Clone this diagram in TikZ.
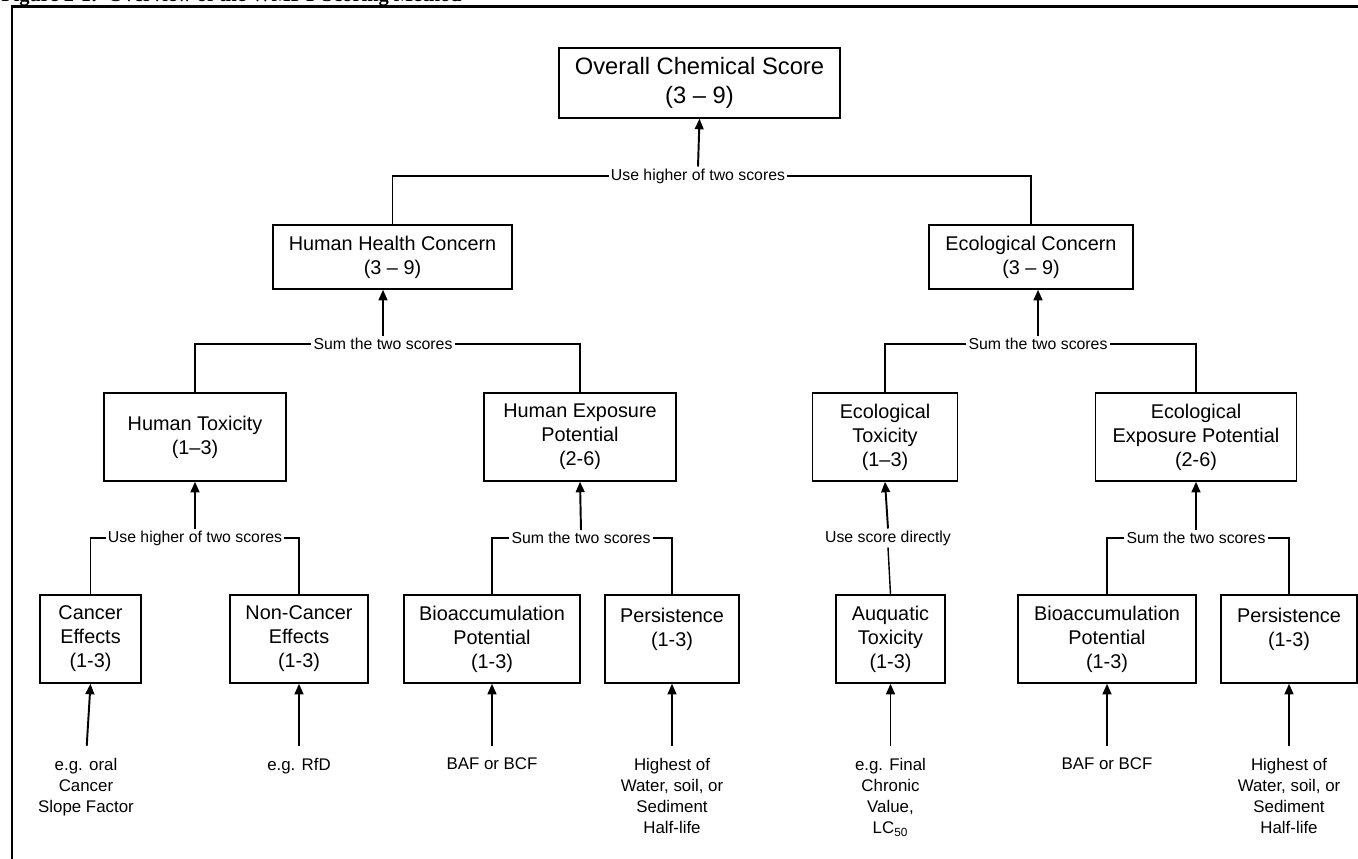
\documentclass[tikz,border=0pt]{standalone}
\usepackage{fontspec}
\setmainfont{Liberation Sans}
\newfontfamily\capfont{Liberation Serif}
\usetikzlibrary{arrows.meta}
\usetikzlibrary{positioning}

\begin{document}
\begin{tikzpicture}[
scorebox/.style={draw,line width=0.85pt,align=center,inner sep=0pt,minimum height=1.76cm,font=\fontsize{11.3}{13.7}\selectfont},
rulelabel/.style={inner sep=1pt,font=\fontsize{9}{10.8}\selectfont},
srctext/.style={align=center,inner sep=0pt,font=\fontsize{9.6}{12}\selectfont},
uparrow/.style={-{Triangle[length=6pt,width=5pt]},line width=1.1pt},
joinline/.style={line width=0.8pt}]
\useasboundingbox (0,0) rectangle (27.16,17.18);
\node[anchor=base west,inner sep=0pt,font=\capfont\bfseries\fontsize{11.6}{13}\selectfont] (caption) at (0.02,17.14) {Figure 2-1:\ \ Overview of the WMPT Scoring Method};
\draw[line width=1.7pt] (0.24,0) -- (0.24,17.04) -- (27.16,17.04);

\node[scorebox,minimum width=5.62cm,minimum height=1.4cm,font=\fontsize{13.5}{16.5}\selectfont] (overall) at (13.99,15.52) {Overall Chemical Score\\(3 – 9)};
\node[scorebox,minimum width=4.78cm,minimum height=1.28cm] (hhc) at (7.85,12.04) {Human Health Concern\\(3 – 9)};
\node[scorebox,minimum width=4.08cm,minimum height=1.28cm] (eco) at (20.62,12.04) {Ecological Concern\\(3 – 9)};
\node[rulelabel] (toplbl) at (13.96,13.66) {Use higher of two scores};
\node[rulelabel] (hhclbl) at (7.66,10.30) {Sum the two scores};
\node[rulelabel] (ecolbl) at (20.76,10.30) {Sum the two scores};

\node[scorebox,minimum width=3.64cm] (htox) at (3.90,8.44) {Human Toxicity\\(1–3)};
\node[scorebox,minimum width=3.84cm] (hexp) at (11.60,8.44) {Human Exposure\\Potential\\(2-6)};
\node[scorebox,minimum width=2.90cm] (etox) at (17.70,8.44) {Ecological\\Toxicity\\(1–3)};
\node[scorebox,minimum width=4.02cm] (eexp) at (23.92,8.44) {Ecological\\Exposure Potential\\(2-6)};
\node[rulelabel] (htoxlbl) at (3.90,6.42) {Use higher of two scores};
\node[rulelabel] (hexplbl) at (11.62,6.42) {Sum the two scores};
\node[rulelabel] (etoxlbl) at (17.76,6.42) {Use score directly};
\node[rulelabel] (eexplbl) at (23.92,6.42) {Sum the two scores};

\node[scorebox,minimum width=2.02cm] (cancer) at (1.81,4.40) {Cancer\\Effects\\(1-3)};
\node[scorebox,minimum width=2.76cm] (noncancer) at (5.98,4.40) {Non-Cancer\\Effects\\(1-3)};
\node[scorebox,minimum width=3.52cm] (bioh) at (9.84,4.40) {Bioaccumulation\\Potential\\(1-3)};
\node[scorebox,minimum width=2.68cm] (persh) at (13.44,4.40) {Persistence\\(1-3)\\\mbox{}};
\node[scorebox,minimum width=2.18cm] (aqua) at (17.81,4.40) {Auquatic\\Toxicity\\(1-3)};
\node[scorebox,minimum width=3.56cm] (bioe) at (22.14,4.40) {Bioaccumulation\\Potential\\(1-3)};
\node[scorebox,minimum width=2.72cm] (perse) at (25.78,4.40) {Persistence\\(1-3)\\\mbox{}};

\node[srctext,below=1.48cm of cancer,xshift=-0.09cm] (cancerin) {e.g. oral\\Cancer\\Slope Factor};
\node[srctext,below=1.48cm of noncancer] (noncancerin) {e.g. RfD};
\node[srctext,below=1.48cm of bioh] (biohin) {BAF or BCF};
\node[srctext,below=1.48cm of persh] (pershin) {Highest of\\Water, soil, or\\Sediment\\Half-life};
\node[srctext,below=1.48cm of aqua] (aquain) {e.g. Final\\Chronic\\Value,\\LC\textsubscript{50}};
\node[srctext,below=1.48cm of bioe] (bioein) {BAF or BCF};
\node[srctext,below=1.48cm of perse] (persein) {Highest of\\Water, soil, or\\Sediment\\Half-life};

\draw[uparrow] (toplbl.north) -- (overall.south);
\draw[joinline] (toplbl.west) -| (hhc.north);
\draw[joinline] (toplbl.east) -| (eco.north);
\draw[uparrow] (hhclbl.north) -- (hhclbl.north |- hhc.south);
\draw[joinline] (hhclbl.west) -| (htox.north);
\draw[joinline] (hhclbl.east) -| (hexp.north);
\draw[uparrow] (ecolbl.north) -- (ecolbl.north |- eco.south);
\draw[joinline] (ecolbl.west) -| (etox.north);
\draw[joinline] (ecolbl.east) -| (eexp.north);

\draw[uparrow] (htoxlbl.north) -- (htox.south);
\draw[joinline] (htoxlbl.west) -| (cancer.north);
\draw[joinline] (htoxlbl.east) -| (noncancer.north);
\draw[uparrow] (hexplbl.north) -- (hexp.south);
\draw[joinline] (hexplbl.west) -| (bioh.north);
\draw[joinline] (hexplbl.east) -| (persh.north);
\draw[uparrow] (etoxlbl.north) -- (etox.south);
\draw[joinline] (etoxlbl.south) -- (aqua.north);
\draw[uparrow] (eexplbl.north) -- (eexp.south);
\draw[joinline] (eexplbl.west) -| (bioe.north);
\draw[joinline] (eexplbl.east) -| (perse.north);

\draw[uparrow,shorten <=0.24cm] (cancerin.north) -- (cancer.south);
\draw[uparrow,shorten <=0.24cm] (noncancerin.north) -- (noncancer.south);
\draw[uparrow,shorten <=0.24cm] (biohin.north) -- (bioh.south);
\draw[uparrow,shorten <=0.24cm] (pershin.north) -- (persh.south);
\draw[uparrow,shorten <=0.24cm] (aquain.north) -- (aqua.south);
\draw[uparrow,shorten <=0.24cm] (bioein.north) -- (bioe.south);
\draw[uparrow,shorten <=0.24cm] (persein.north) -- (perse.south);
\end{tikzpicture}
\end{document}
